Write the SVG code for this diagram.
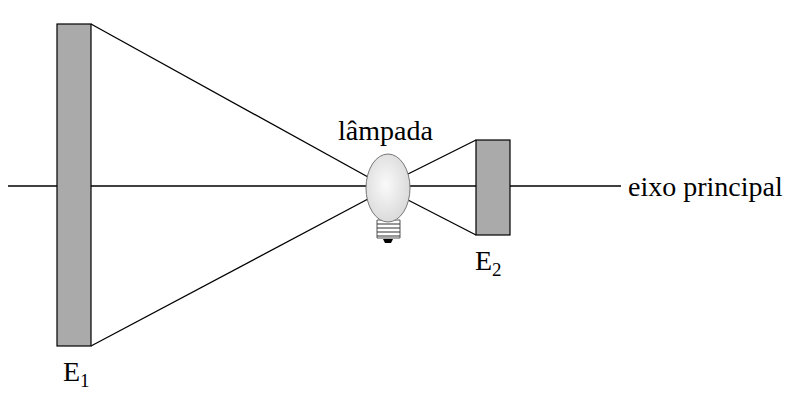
<svg xmlns="http://www.w3.org/2000/svg" width="807" height="400" viewBox="0 0 807 400">
<defs><radialGradient id="g" cx="0.45" cy="0.45" r="0.6"><stop offset="0" stop-color="#fafafa"/><stop offset="1" stop-color="#d8d8d8"/></radialGradient>
<style>.l{stroke:#000;stroke-width:1.3;fill:none}.t{font-family:"Liberation Serif",serif;font-size:28px}.m{fill:#aaa;stroke:#000;stroke-width:1.2}</style></defs>
<g id="connectors">
<line class="l" x1="8" y1="186" x2="621" y2="186"/>
<line class="l" x1="91" y1="24" x2="368" y2="177"/>
<line class="l" x1="91" y1="346" x2="368" y2="199"/>
<line class="l" x1="476" y1="140" x2="408" y2="174"/>
<line class="l" x1="476" y1="235" x2="408" y2="200"/>
</g>
<g id="E1"><rect class="m" x="57" y="24" width="34" height="322"/><text class="t" x="63" y="381">E<tspan font-size="19" dy="6">1</tspan></text></g>
<g id="E2"><rect class="m" x="476" y="140" width="34" height="95"/><text class="t" x="475" y="270">E<tspan font-size="19" dy="6">2</tspan></text></g>
<g id="lampada">
<path d="M377,220 h23 v18 h-23z" fill="#fff" stroke="#555"/>
<path d="M377,224 h23 M377,228 h23 M377,232 h23 M377,236 h23" stroke="#333" stroke-width="1.2"/>
<path d="M383,239 h10 l-2,4 h-6z" fill="#000"/>
<ellipse cx="388" cy="188" rx="22" ry="34" fill="url(#g)" stroke="#777" stroke-width="1"/>
<text class="t" x="338" y="140">lâmpada</text>
</g>
<text class="t" x="628" y="196">eixo principal</text>
</svg>
